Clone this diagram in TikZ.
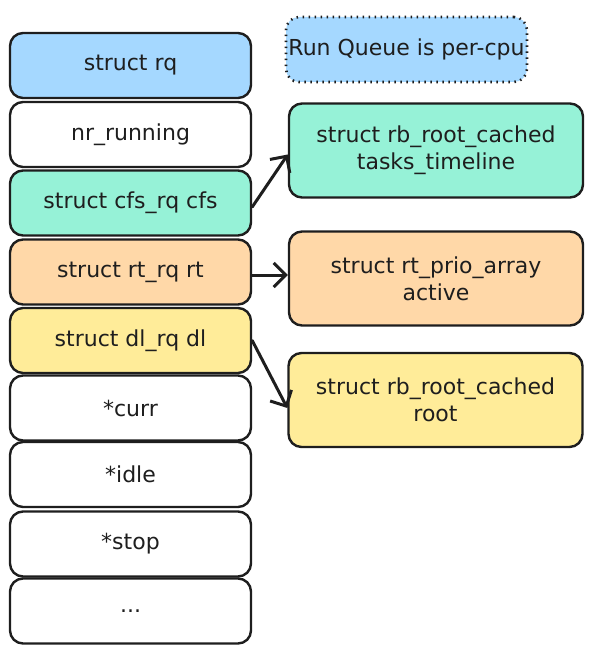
\documentclass[tikz,border=0pt]{standalone}
\usepackage{fontspec}
\setmainfont{DejaVu Sans}
\usetikzlibrary{arrows.meta}
\definecolor{ink}{HTML}{1E1E1E}
\definecolor{cblue}{HTML}{A5D8FF}
\definecolor{cgreen}{HTML}{96F2D7}
\definecolor{corange}{HTML}{FFD8A8}
\definecolor{cyellow}{HTML}{FFEC99}
\tikzset{
  field/.style={draw=ink, line width=2.4pt, rounded corners=13pt, fill=white,
    minimum width=241pt, minimum height=65pt, inner sep=0pt, align=center,
    font=\fontsize{22}{27}\selectfont, text=ink},
  target/.style={field, minimum width=294pt, minimum height=94pt},
  notebox/.style={field, dash pattern=on 1.5pt off 4.5pt, line width=2.6pt},
  link/.style={draw=ink, line width=3pt, line cap=round,
    -{Straight Barb[length=12pt,width=24pt,line width=3pt]}}
}
\begin{document}
\begin{tikzpicture}[x=1pt,y=-1pt]
\useasboundingbox (0,0) rectangle (592,652);
\node[field, fill=cblue]   (rq)   at (130.5,65.5)  {struct rq};
\node[field]               (nr)   at (130.5,134.5) {nr\_running};
\node[field, fill=cgreen]  (cfs)  at (130.5,203)   {struct cfs\_rq cfs};
\node[field, fill=corange] (rt)   at (130.5,272)   {struct rt\_rq rt};
\node[field, fill=cyellow] (dl)   at (130.5,340.5) {struct dl\_rq dl};
\node[field]               (curr) at (130.5,408)   {*curr};
\node[field]               (idle) at (130.5,474.5) {*idle};
\node[field]               (stop) at (130.5,544)   {*stop};
\node[field]               (dots) at (130.5,611)   {...};
\node[notebox, fill=cblue] (note) at (406.5,49.5)  {Run Queue is per-cpu};
\node[target, fill=cgreen]  (tl)   at (436,150.5) {struct rb\_root\_cached\\tasks\_timeline};
\node[target, fill=corange] (prio) at (436,278.5) {struct rt\_prio\_array\\active};
\node[target, fill=cyellow] (root) at (435.5,400) {struct rb\_root\_cached\\root};
\draw[link] ([yshift=-4pt]cfs.east) -- ([yshift=-4pt]tl.west);
\draw[link] ([yshift=-3pt]rt.east) -- ([yshift=-3pt]rt.east -| prio.west);
\draw[link] (dl.east) -- ([yshift=-8pt]root.west);
\end{tikzpicture}
\end{document}
